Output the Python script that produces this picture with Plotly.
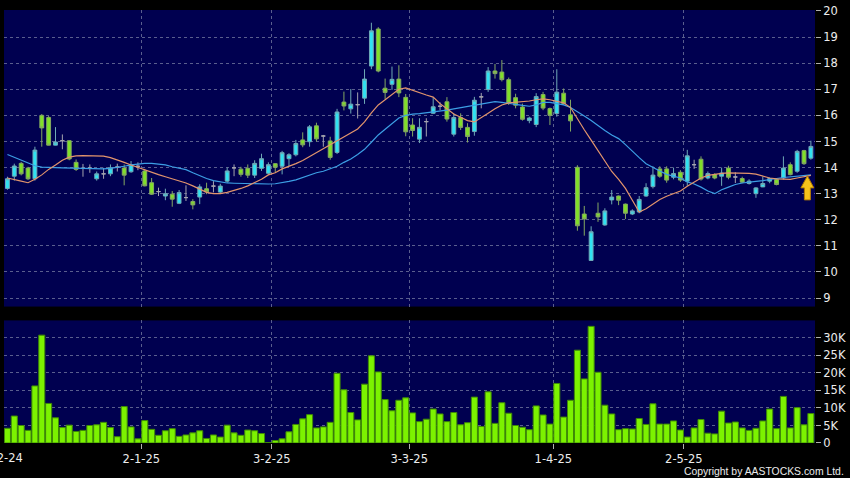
import plotly.graph_objects as go

# ---------------- data ----------------
tick_labels = ["2-12-24", "2-1-25", "3-2-25", "3-3-25", "1-4-25", "2-5-25"]
tick_index = [0, 20, 39, 59, 80, 99]

opens = [13.2, 13.67, 14.16, 13.98, 13.57, 16.0, 15.92, 14.86, 15.03, 15.03,
         14.2, 13.97, 13.98, 13.57, 13.76, 13.76, 14.02, 13.98, 13.84, 14.05,
         13.87, 13.42, 13.08, 12.91, 12.98, 12.63, 12.85, 12.7, 12.87, 13.19,
         13.29, 13.06, 13.48, 13.99, 13.94, 13.97, 13.71, 13.97, 13.78, 14.15,
         14.05, 14.34, 14.49, 15.06, 14.99, 15.6, 15.21, 15.02, 14.58, 16.51,
         16.25, 16.41, 16.66, 17.89, 19.31, 17.04, 17.19, 17.39, 16.69, 15.63,
         15.09, 15.76, 16.08, 16.35, 16.52, 15.28, 15.92, 15.54, 15.38, 16.71,
         16.99, 17.7, 17.66, 17.37, 16.68, 16.32, 15.8, 15.65, 16.8, 16.26,
         16.07, 16.85, 16.02, 14.01, 12.22, 10.44, 12.25, 11.8, 12.76, 12.91,
         12.6, 12.22, 12.3, 12.91, 13.27, 13.95, 13.95, 13.63, 13.82, 13.48,
         14.11, 14.32, 13.6, 13.73, 13.67, 13.98, 13.64, 13.58, 13.39, 13.0,
         13.26, 13.48, 13.54, 13.6, 14.11, 13.86, 14.65, 14.36]
highs = [13.65, 14.15, 14.22, 14.03, 14.8, 16.05, 15.98, 15.55, 15.27, 15.05,
         14.31, 14.14, 14.12, 13.85, 13.99, 14.12, 14.15, 14.12, 14.25, 14.2,
         13.95, 13.6, 13.23, 13.19, 13.1, 13.14, 13.32, 12.79, 13.36, 13.42,
         13.48, 13.38, 14.0, 14.12, 14.03, 14.12, 14.28, 14.53, 14.2, 14.17,
         14.64, 14.55, 15.06, 15.35, 15.63, 15.72, 15.25, 15.18, 16.25, 16.91,
         17.01, 16.88, 17.77, 19.55, 19.38, 17.41, 17.87, 17.92, 16.82, 15.89,
         15.89, 15.89, 16.7, 16.5, 16.7, 16.08, 16.08, 15.7, 16.71, 16.86,
         17.85, 17.97, 18.12, 17.45, 16.83, 16.45, 15.95, 16.85, 16.9, 16.3,
         17.77, 17.03, 16.6, 14.09, 12.53, 11.75, 12.66, 12.44, 13.14, 12.93,
         12.62, 12.4, 12.91, 13.4, 14.05, 14.05, 14.05, 14.0, 13.9, 14.68,
         14.3, 14.43, 13.85, 13.78, 14.0, 14.07, 13.82, 13.65, 13.55, 13.25,
         13.66, 13.62, 13.6, 14.43, 14.2, 14.68, 14.68, 15.03]
lows = [13.15, 13.5, 13.7, 13.52, 13.5, 14.8, 14.85, 14.85, 14.7, 14.28,
        13.87, 13.65, 13.8, 13.5, 13.57, 13.67, 13.85, 13.32, 13.8, 13.9,
        13.28, 12.95, 12.91, 12.75, 12.5, 12.6, 12.72, 12.4, 12.6, 12.98,
        13.05, 13.0, 13.42, 13.67, 13.65, 13.6, 13.6, 13.87, 13.72, 13.8,
        13.74, 14.05, 14.43, 14.78, 14.8, 15.0, 14.8, 14.3, 14.52, 16.19,
        16.07, 15.88, 16.44, 17.77, 17.65, 16.63, 16.98, 16.7, 15.2, 15.19,
        14.94, 15.19, 16.05, 16.2, 15.76, 15.19, 15.44, 14.96, 15.22, 16.27,
        16.9, 17.41, 17.3, 16.4, 16.27, 15.8, 15.7, 15.55, 16.2, 15.63,
        15.95, 16.4, 15.38, 11.58, 11.39, 10.42, 11.92, 11.77, 12.59, 12.56,
        12.03, 12.18, 12.25, 12.88, 13.2, 13.61, 13.42, 13.55, 13.45, 13.3,
        13.95, 13.5, 13.55, 13.55, 13.3, 13.55, 13.41, 13.4, 13.35, 12.84,
        13.25, 13.4, 13.32, 13.54, 13.7, 13.8, 14.1, 14.3]
closes = [13.57, 14.06, 13.76, 13.57, 14.67, 15.52, 14.86, 14.98, 15.03, 14.33,
          13.93, 13.97, 13.98, 13.76, 13.76, 13.99, 14.02, 13.71, 14.11, 14.05,
          13.3, 12.98, 13.08, 13.0, 12.79, 13.04, 12.85, 12.57, 13.26, 13.07,
          13.29, 13.29, 13.87, 13.99, 13.74, 13.71, 14.16, 14.34, 14.11, 14.01,
          14.57, 14.49, 14.92, 14.87, 15.56, 15.1, 15.21, 14.39, 16.13, 16.36,
          16.43, 16.41, 17.39, 19.24, 17.7, 16.88, 17.38, 16.86, 15.37, 15.42,
          15.54, 15.76, 16.33, 16.35, 15.86, 15.92, 15.54, 15.19, 16.58, 16.71,
          17.7, 17.6, 17.37, 16.46, 16.39, 15.85, 15.9, 16.72, 16.28, 16.0,
          16.89, 16.45, 15.79, 11.77, 12.03, 11.54, 12.11, 12.34, 12.87, 12.75,
          12.25, 12.34, 12.78, 13.23, 13.71, 13.67, 13.52, 13.77, 13.52, 14.45,
          14.11, 13.56, 13.77, 13.6, 13.79, 13.63, 13.64, 13.44, 13.48, 13.22,
          13.39, 13.58, 13.35, 13.98, 13.73, 14.62, 14.15, 14.81]

ma_short = [13.6, 13.55, 13.48, 13.42, 13.55, 13.72, 13.93, 14.1, 14.28, 14.4,
            14.45, 14.46, 14.46, 14.45, 14.44, 14.38, 14.3, 14.2, 14.1, 14.0,
            13.9, 13.8, 13.73, 13.65, 13.57, 13.5, 13.41, 13.3, 13.16, 13.05,
            13.0, 13.0, 13.05, 13.12, 13.2, 13.3, 13.42, 13.55, 13.72, 13.8,
            13.95, 14.04, 14.15, 14.27, 14.42, 14.58, 14.72, 14.85, 15.0, 15.15,
            15.3, 15.48, 15.75, 16.1, 16.4, 16.6, 16.8, 17.0, 17.05, 16.95,
            16.85, 16.78, 16.7, 16.45, 16.25, 16.05, 15.93, 15.8, 15.75, 15.9,
            16.08, 16.25, 16.4, 16.48, 16.5, 16.52, 16.55, 16.6, 16.63, 16.6,
            16.55, 16.48, 16.3, 15.85, 15.45, 15.05, 14.65, 14.2, 13.85, 13.55,
            13.2, 12.75, 12.3, 12.42, 12.6, 12.78, 12.9, 13.0, 13.1, 13.28,
            13.45, 13.6, 13.7, 13.75, 13.78, 13.8, 13.8, 13.8, 13.78, 13.75,
            13.68, 13.6, 13.57, 13.55, 13.55, 13.6, 13.65, 13.7]
ma_long = [14.5, 14.4, 14.3, 14.18, 14.07, 14.02, 14.0, 14.0, 13.99, 13.98,
           13.97, 13.96, 13.95, 13.94, 13.95, 13.97, 14.0, 14.05, 14.1, 14.14,
           14.16, 14.16, 14.14, 14.1, 14.03, 13.97, 13.92, 13.8, 13.68, 13.58,
           13.5, 13.45, 13.41, 13.4, 13.39, 13.38, 13.38, 13.37, 13.37, 13.38,
           13.42, 13.47, 13.53, 13.62, 13.72, 13.8, 13.86, 13.95, 14.05, 14.2,
           14.33, 14.5, 14.7, 14.97, 15.25, 15.47, 15.7, 15.9, 16.0, 16.05,
           16.07, 16.1, 16.13, 16.16, 16.2, 16.25, 16.3, 16.35, 16.4, 16.45,
           16.5, 16.53, 16.5, 16.45, 16.42, 16.38, 16.35, 16.4, 16.5, 16.5,
           16.45, 16.4, 16.3, 16.15, 15.98, 15.8, 15.6, 15.42, 15.25, 15.11,
           14.88, 14.61, 14.38, 14.15, 14.0, 13.87, 13.74, 13.66, 13.6, 13.45,
           13.37, 13.25, 13.1, 13.0, 13.15, 13.25, 13.35, 13.41, 13.45, 13.47,
           13.5, 13.53, 13.58, 13.62, 13.65, 13.68, 13.7, 13.72]

volume_k = [4.2, 7.7, 5.0, 3.6, 16.3, 30.8, 11.3, 7.2, 4.4, 5.1,
            3.3, 3.6, 5.0, 5.2, 5.9, 4.4, 1.8, 10.4, 4.6, 1.2,
            6.4, 3.9, 2.2, 3.5, 4.1, 1.9, 2.3, 2.9, 3.5, 1.3,
            2.3, 1.7, 5.1, 2.9, 2.2, 3.7, 3.5, 2.7, 0.1, 0.7,
            1.2, 3.2, 5.3, 6.9, 8.1, 4.3, 4.6, 5.9, 19.9, 15.2,
            8.7, 6.6, 16.8, 24.9, 20.3, 12.4, 9.2, 12.2, 12.9, 8.6,
            6.1, 6.8, 9.7, 8.3, 6.1, 8.7, 5.2, 5.8, 13.1, 4.7,
            14.6, 5.6, 11.5, 8.5, 5.0, 4.5, 3.8, 10.6, 8.0, 5.4,
            17.0, 7.4, 12.2, 26.5, 18.3, 33.3, 20.2, 10.8, 8.3, 3.8,
            4.1, 4.0, 7.0, 5.3, 11.2, 5.4, 5.4, 6.3, 3.7, 1.7,
            4.3, 6.7, 2.8, 2.6, 9.1, 5.7, 6.0, 4.3, 3.6, 4.2,
            6.3, 9.7, 4.1, 13.3, 4.3, 10.1, 5.2, 8.4]

price_ticks = list(range(9, 21))
vol_ticks = [0, 5, 10, 15, 20, 25, 30]
vol_tick_labels = ["0", "5K", "10K", "15K", "20K", "25K", "30K"]
copyright_text = "Copyright by AASTOCKS.com Ltd."

# ---------------- styling ----------------
BG = "#000050"
GRID = "#5a5e8e"
TXT = "#ececec"
FONT = "DejaVu Sans"
CYAN, CYAN_LINE = "#30e2f2", "#6fa9b6"
GREEN, GREEN_LINE = "#80e028", "#84a862"
DOJI_LINE = "#a4a4ae"

n = len(closes)
xs = list(range(n))
up_idx = [i for i in xs if closes[i] > opens[i]]
dn_idx = [i for i in xs if closes[i] < opens[i]]
dj_idx = [i for i in xs if closes[i] == opens[i]]

fig = go.Figure()

fig.add_trace(go.Scatter(x=xs, y=ma_long, mode="lines",
                         line=dict(color="#3c9ee4", width=1.2),
                         hoverinfo="skip", xaxis="x", yaxis="y"))
fig.add_trace(go.Scatter(x=xs, y=ma_short, mode="lines",
                         line=dict(color="#e2946c", width=1.2),
                         hoverinfo="skip", xaxis="x", yaxis="y"))


def candles(idx, fill, line):
    style = dict(fillcolor=fill, line=dict(color=line, width=1))
    return go.Candlestick(
        x=idx,
        open=[opens[i] for i in idx], high=[highs[i] for i in idx],
        low=[lows[i] for i in idx], close=[closes[i] for i in idx],
        increasing=style, decreasing=style, whiskerwidth=0,
        hoverinfo="skip", xaxis="x", yaxis="y")


fig.add_trace(candles(up_idx, CYAN, CYAN_LINE))
fig.add_trace(candles(dn_idx, GREEN, GREEN_LINE))
fig.add_trace(candles(dj_idx, DOJI_LINE, DOJI_LINE))

fig.add_trace(go.Bar(x=xs, y=volume_k,
                     marker=dict(color="#7cf200", line=dict(color="#3f8a06", width=1)),
                     hoverinfo="skip", xaxis="x2", yaxis="y2"))

tickpos = [t - 0.5 for t in tick_index]
axfont = dict(family=FONT, size=11.5, color=TXT)
grid = dict(showgrid=True, gridcolor=GRID, griddash="3px,3px", gridwidth=1, zeroline=False)

fig.update_layout(
    width=850, height=478,
    margin=dict(l=4, r=32, t=5, b=35),
    paper_bgcolor="black", plot_bgcolor=BG,
    showlegend=False, bargap=0.12, boxgap=0.2, hovermode=False,
    xaxis=dict(domain=[0, 1], anchor="y", range=[-0.5, n - 0.4],
               tickmode="array", tickvals=tickpos, showticklabels=False, ticks="",
               rangeslider=dict(visible=False), showline=False, **grid),
    xaxis2=dict(domain=[0, 1], anchor="y2", range=[-0.5, n - 0.4],
                tickmode="array", tickvals=tickpos[1:], ticktext=tick_labels[1:],
                ticks="outside", ticklen=5, tickcolor="#b0b0b0", tickfont=axfont,
                rangeslider=dict(visible=False), showline=False, **grid),
    yaxis=dict(domain=[0.3151, 1], anchor="x", side="right", range=[8.674, 20.038],
               tickmode="array", tickvals=price_ticks, ticks="outside", ticklen=5,
               tickcolor="#b0b0b0", tickfont=axfont, showline=False,
               ticklabeloverflow="allow", **grid),
    yaxis2=dict(domain=[0, 0.2831], anchor="x2", side="right", range=[0, 35],
                tickmode="array", tickvals=vol_ticks, ticktext=vol_tick_labels,
                ticks="outside", ticklen=5, tickcolor="#b0b0b0", tickfont=axfont,
                showline=False, ticklabeloverflow="allow", **grid),
)

# first date label sits at the very left edge (partly cut off, as in the source)
fig.add_annotation(text=tick_labels[0], xref="paper", yref="paper", x=0, y=0,
                   xanchor="center", yanchor="top", xshift=-4, yshift=-6,
                   showarrow=False, font=axfont)

# yellow arrow marking the latest bar
fig.add_shape(type="path", xref="x", yref="y", xsizemode="pixel", ysizemode="pixel",
              xanchor=n - 1, yanchor=ma_long[-1],
              path="M -3.5 -1 L 3 -13 L -0.5 -13 L -0.5 -25 L -6.5 -25 L -6.5 -13 L -10 -13 Z",
              fillcolor="#f6c21a", line=dict(color="#b27a00", width=1))

fig.add_annotation(text=copyright_text, xref="paper", yref="paper", x=1, y=0,
                   xanchor="right", yanchor="middle", xshift=31, yshift=-28,
                   showarrow=False,
                   font=dict(family="Liberation Sans", size=10.4, color=TXT))

fig.write_html("out.html",
               config={"displayModeBar": False},
               post_script="document.body.style.margin='0px';"
                           "document.body.style.background='black';")
